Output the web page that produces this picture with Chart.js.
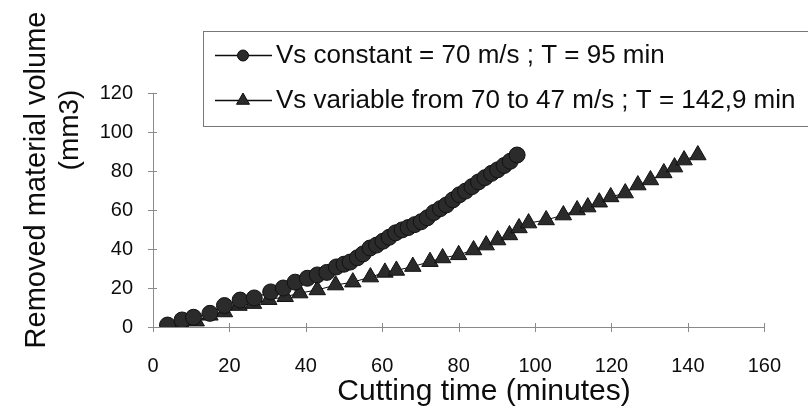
<!DOCTYPE html>
<html>
<head>
<meta charset="utf-8">
<script src="https://cdn.jsdelivr.net/npm/chart.js@4.4.1/dist/chart.umd.min.js"></script>
<style>
  html, body { margin: 0; padding: 0; background: #fff; }
  #wrap { width: 808px; height: 412px; }
</style>
</head>
<body>
<div id="wrap"><canvas id="chart" width="808" height="412"></canvas></div>
<script>
// values
const constantTime = [3.8, 7.6, 10.6, 14.9, 18.7, 22.8, 26.5, 30.8, 34.1, 37.2, 40.4, 43.0, 45.5, 48.0, 50.0, 51.6, 53.5, 55.0, 56.8, 58.5, 60.2, 61.8, 63.5, 65.2, 66.8, 68.5, 70.2, 71.8, 73.5, 75.2, 76.8, 78.5, 80.2, 81.8, 83.5, 85.2, 86.9, 88.6, 90.2, 91.9, 93.5, 95.3];
const constantVolume = [1, 3.6, 5, 7, 11, 13.8, 14.9, 18, 20, 23, 25, 26.7, 28, 30.8, 32.2, 33.3, 35.5, 37.5, 40.5, 42, 44, 46, 48.3, 49.8, 51, 52.5, 54, 56, 58.7, 60.7, 62.6, 65.2, 67.8, 69.7, 72, 74.4, 76.6, 78.8, 80.6, 82.8, 85, 88.2];

const variableTime = [3.8, 7.6, 11.3, 14.9, 18.7, 22.5, 26.3, 30.3, 34.6, 38.4, 43.0, 47.8, 52.3, 56.9, 60.7, 63.7, 68.0, 72.5, 75.8, 80.0, 83.9, 87.2, 90.2, 93.3, 95.8, 98.3, 102.9, 107.4, 111.0, 113.8, 116.8, 119.8, 123.6, 126.9, 130.2, 133.7, 136.5, 139.0, 142.6];
const variableVolume = [0, 1, 3, 6, 7.7, 11, 12, 14, 15.5, 17.4, 19, 21.5, 23, 25.6, 28, 29, 31, 33.5, 35.4, 37, 39.5, 42, 44.6, 47.2, 50.8, 53.3, 54.9, 57.4, 60, 61.5, 64, 66.7, 68.7, 72.8, 75.4, 79, 82, 85.6, 88.2];

const seriesLabels = ['Vs constant = 70 m/s ; T = 95 min', 'Vs variable from 70 to 47 m/s ; T = 142,9 min'];
const xTitle = 'Cutting time (minutes)';
const yTitleLines = ['Removed material volume', '(mm3)'];

const FONT = "'Liberation Sans', Arial, Helvetica, sans-serif";
const INK = '#0d0d0d';
const AXIS = '#8a8a8a';
const MARK = '#2b2b2b';

const toPoints = (xs, ys) => xs.map((v, i) => ({ x: v, y: ys[i] }));

function drawMarker(ctx, style, cx, cy, r) {
    ctx.beginPath();
    if (style === 'circle') {
        ctx.arc(cx, cy, r, 0, Math.PI * 2);
    } else {
        ctx.moveTo(cx, cy - r);
        ctx.lineTo(cx + r * 0.866, cy + r * 0.5);
        ctx.lineTo(cx - r * 0.866, cy + r * 0.5);
        ctx.closePath();
    }
    ctx.fill();
    ctx.stroke();
}

// crossing tick marks, axis titles and the boxed legend
const decorPlugin = {
    id: 'decor',
    beforeDatasetsDraw(chart) {
        const { ctx, scales: { x, y } } = chart;
        ctx.save();
        ctx.strokeStyle = AXIS;
        ctx.lineWidth = 1;
        x.ticks.forEach(t => {
            const px = Math.round(x.getPixelForValue(t.value)) + 0.5;
            ctx.beginPath();
            ctx.moveTo(px, y.bottom - 4);
            ctx.lineTo(px, y.bottom + 5);
            ctx.stroke();
        });
        y.ticks.forEach(t => {
            const py = Math.round(y.getPixelForValue(t.value)) + 0.5;
            ctx.beginPath();
            ctx.moveTo(x.left - 5, py);
            ctx.lineTo(x.left + 4, py);
            ctx.stroke();
        });
        ctx.restore();
    },
    afterDraw(chart) {
        const { ctx } = chart;
        ctx.save();
        ctx.fillStyle = INK;

        // x title
        ctx.font = '30px ' + FONT;
        ctx.textAlign = 'center';
        ctx.textBaseline = 'middle';
        ctx.fillText(xTitle, 484, 392);

        // y title (two rotated lines)
        ctx.save();
        ctx.translate(37, 180);
        ctx.rotate(-Math.PI / 2);
        ctx.font = '29px ' + FONT;
        ctx.fillText(yTitleLines[0], 0, 0);
        ctx.restore();
        ctx.save();
        ctx.translate(70, 130);
        ctx.rotate(-Math.PI / 2);
        ctx.font = '28px ' + FONT;
        ctx.fillText(yTitleLines[1], 0, 0);
        ctx.restore();

        // legend box
        ctx.strokeStyle = '#777';
        ctx.lineWidth = 1;
        ctx.strokeRect(203.5, 31.5, 620, 95);
        const rows = [55, 100];
        chart.data.datasets.forEach((ds, i) => {
            const ry = rows[i] + 0.5;
            ctx.strokeStyle = INK;
            ctx.lineWidth = 1.5;
            ctx.beginPath();
            ctx.moveTo(215, ry);
            ctx.lineTo(272, ry);
            ctx.stroke();
            ctx.fillStyle = MARK;
            ctx.lineWidth = 1;
            drawMarker(ctx, ds.pointStyle, 243, ry, ds.pointStyle === 'circle' ? 5.5 : 7.5);
            ctx.fillStyle = INK;
            ctx.font = '26px ' + FONT;
            ctx.textAlign = 'left';
            ctx.textBaseline = 'middle';
            ctx.fillText(ds.label, 276, rows[i] + 1);
        });
        ctx.restore();
    }
};

new Chart(document.getElementById('chart'), {
    type: 'scatter',
    data: {
        datasets: [
            {
                label: seriesLabels[0],
                data: toPoints(constantTime, constantVolume),
                showLine: true,
                borderColor: INK,
                borderWidth: 1,
                pointStyle: 'circle',
                pointRadius: 8,
                pointBackgroundColor: MARK,
                pointBorderColor: '#111',
                pointBorderWidth: 1
            },
            {
                label: seriesLabels[1],
                data: toPoints(variableTime, variableVolume),
                showLine: true,
                borderColor: INK,
                borderWidth: 1,
                pointStyle: 'triangle',
                pointRadius: 9.5,
                pointBackgroundColor: MARK,
                pointBorderColor: '#111',
                pointBorderWidth: 1
            }
        ]
    },
    options: {
        responsive: false,
        animation: false,
        layout: { padding: { left: 0, right: 22, top: 93, bottom: 0 } },
        plugins: {
            legend: { display: false },
            tooltip: { enabled: false }
        },
        scales: {
            x: {
                type: 'linear',
                min: 0,
                max: 160,
                grid: { display: false, drawTicks: false },
                border: { display: true, color: AXIS, width: 1 },
                ticks: { stepSize: 20, padding: 27, color: INK, font: { family: FONT, size: 20 } },
                afterFit(scale) { scale.height = 85; }
            },
            y: {
                min: 0,
                max: 120,
                grid: { display: false, drawTicks: false },
                border: { display: true, color: AXIS, width: 1 },
                ticks: { stepSize: 20, padding: 20, color: INK, font: { family: FONT, size: 20 } },
                afterFit(scale) { scale.width = 153; }
            }
        }
    },
    plugins: [decorPlugin]
});
</script>
</body>
</html>
